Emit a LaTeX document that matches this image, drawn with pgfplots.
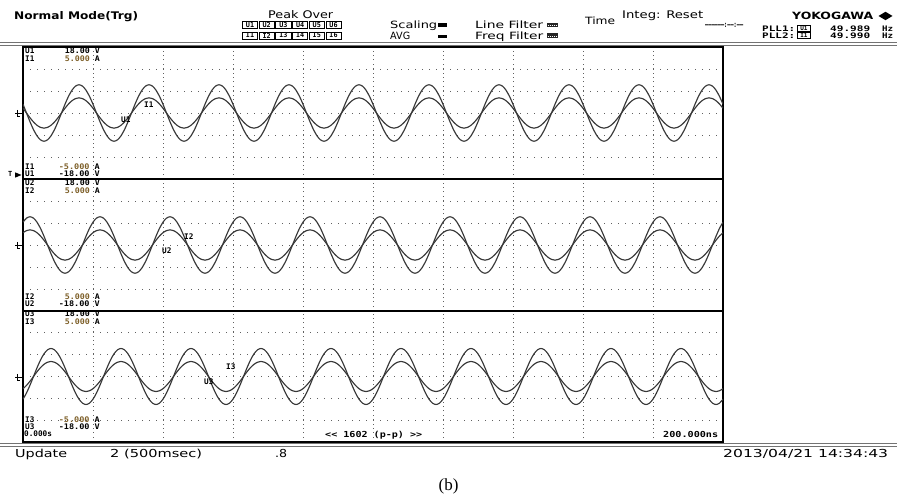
\documentclass[border=0pt]{standalone}
\usepackage{pgfplots}
\pgfplotsset{compat=1.18}
\usepackage{pgfplotstable}
\usepackage{graphicx}
\usepackage{fontspec}
\setmainfont{DejaVu Sans}
\newfontfamily\hdr{DejaVu Sans}
\newfontfamily\mono{DejaVu Sans Mono}
\newfontfamily\capf{Liberation Serif}
\newcommand\fit[2]{\resizebox{#1}{\height}{#2}}
\definecolor{trace}{gray}{0.22}
\definecolor{gridc}{gray}{0.38}
\definecolor{ival}{RGB}{125,95,40}

\pgfplotstableread{
t u1 i1 u2 i2 u3 i3
0.00 2.38 0.36 6.23 0.93 -6.23 -0.93
0.05 0 0 7.32 1.09 -4.53 -0.68
0.10 -2.38 -0.36 7.70 1.15 -2.38 -0.36
0.15 -4.53 -0.68 7.32 1.09 0 0
0.20 -6.23 -0.93 6.23 0.93 2.38 0.36
0.25 -7.32 -1.09 4.53 0.68 4.53 0.68
0.30 -7.70 -1.15 2.38 0.36 6.23 0.93
0.35 -7.32 -1.09 0 0 7.32 1.09
0.40 -6.23 -0.93 -2.38 -0.36 7.70 1.15
0.45 -4.53 -0.68 -4.53 -0.68 7.32 1.09
0.50 -2.38 -0.36 -6.23 -0.93 6.23 0.93
0.55 0 0 -7.32 -1.09 4.53 0.68
0.60 2.38 0.36 -7.70 -1.15 2.38 0.36
0.65 4.53 0.68 -7.32 -1.09 0 0
0.70 6.23 0.93 -6.23 -0.93 -2.38 -0.36
0.75 7.32 1.09 -4.53 -0.68 -4.53 -0.68
0.80 7.70 1.15 -2.38 -0.36 -6.23 -0.93
0.85 7.32 1.09 0 0 -7.32 -1.09
0.90 6.23 0.93 2.38 0.36 -7.70 -1.15
0.95 4.53 0.68 4.53 0.68 -7.32 -1.09
1.00 2.38 0.36 6.23 0.93 -6.23 -0.93
1.05 0 0 7.32 1.09 -4.53 -0.68
1.10 -2.38 -0.36 7.70 1.15 -2.38 -0.36
1.15 -4.53 -0.68 7.32 1.09 0 0
1.20 -6.23 -0.93 6.23 0.93 2.38 0.36
1.25 -7.32 -1.09 4.53 0.68 4.53 0.68
1.30 -7.70 -1.15 2.38 0.36 6.23 0.93
1.35 -7.32 -1.09 0 0 7.32 1.09
1.40 -6.23 -0.93 -2.38 -0.36 7.70 1.15
1.45 -4.53 -0.68 -4.53 -0.68 7.32 1.09
1.50 -2.38 -0.36 -6.23 -0.93 6.23 0.93
1.55 0 0 -7.32 -1.09 4.53 0.68
1.60 2.38 0.36 -7.70 -1.15 2.38 0.36
1.65 4.53 0.68 -7.32 -1.09 0 0
1.70 6.23 0.93 -6.23 -0.93 -2.38 -0.36
1.75 7.32 1.09 -4.53 -0.68 -4.53 -0.68
1.80 7.70 1.15 -2.38 -0.36 -6.23 -0.93
1.85 7.32 1.09 0 0 -7.32 -1.09
1.90 6.23 0.93 2.38 0.36 -7.70 -1.15
1.95 4.53 0.68 4.53 0.68 -7.32 -1.09
2.00 2.38 0.36 6.23 0.93 -6.23 -0.93
2.05 0 0 7.32 1.09 -4.53 -0.68
2.10 -2.38 -0.36 7.70 1.15 -2.38 -0.36
2.15 -4.53 -0.68 7.32 1.09 0 0
2.20 -6.23 -0.93 6.23 0.93 2.38 0.36
2.25 -7.32 -1.09 4.53 0.68 4.53 0.68
2.30 -7.70 -1.15 2.38 0.36 6.23 0.93
2.35 -7.32 -1.09 0 0 7.32 1.09
2.40 -6.23 -0.93 -2.38 -0.36 7.70 1.15
2.45 -4.53 -0.68 -4.53 -0.68 7.32 1.09
2.50 -2.38 -0.36 -6.23 -0.93 6.23 0.93
2.55 0 0 -7.32 -1.09 4.53 0.68
2.60 2.38 0.36 -7.70 -1.15 2.38 0.36
2.65 4.53 0.68 -7.32 -1.09 0 0
2.70 6.23 0.93 -6.23 -0.93 -2.38 -0.36
2.75 7.32 1.09 -4.53 -0.68 -4.53 -0.68
2.80 7.70 1.15 -2.38 -0.36 -6.23 -0.93
2.85 7.32 1.09 0 0 -7.32 -1.09
2.90 6.23 0.93 2.38 0.36 -7.70 -1.15
2.95 4.53 0.68 4.53 0.68 -7.32 -1.09
3.00 2.38 0.36 6.23 0.93 -6.23 -0.93
3.05 0 0 7.32 1.09 -4.53 -0.68
3.10 -2.38 -0.36 7.70 1.15 -2.38 -0.36
3.15 -4.53 -0.68 7.32 1.09 0 0
3.20 -6.23 -0.93 6.23 0.93 2.38 0.36
3.25 -7.32 -1.09 4.53 0.68 4.53 0.68
3.30 -7.70 -1.15 2.38 0.36 6.23 0.93
3.35 -7.32 -1.09 0 0 7.32 1.09
3.40 -6.23 -0.93 -2.38 -0.36 7.70 1.15
3.45 -4.53 -0.68 -4.53 -0.68 7.32 1.09
3.50 -2.38 -0.36 -6.23 -0.93 6.23 0.93
3.55 0 0 -7.32 -1.09 4.53 0.68
3.60 2.38 0.36 -7.70 -1.15 2.38 0.36
3.65 4.53 0.68 -7.32 -1.09 0 0
3.70 6.23 0.93 -6.23 -0.93 -2.38 -0.36
3.75 7.32 1.09 -4.53 -0.68 -4.53 -0.68
3.80 7.70 1.15 -2.38 -0.36 -6.23 -0.93
3.85 7.32 1.09 0 0 -7.32 -1.09
3.90 6.23 0.93 2.38 0.36 -7.70 -1.15
3.95 4.53 0.68 4.53 0.68 -7.32 -1.09
4.00 2.38 0.36 6.23 0.93 -6.23 -0.93
4.05 0 0 7.32 1.09 -4.53 -0.68
4.10 -2.38 -0.36 7.70 1.15 -2.38 -0.36
4.15 -4.53 -0.68 7.32 1.09 0 0
4.20 -6.23 -0.93 6.23 0.93 2.38 0.36
4.25 -7.32 -1.09 4.53 0.68 4.53 0.68
4.30 -7.70 -1.15 2.38 0.36 6.23 0.93
4.35 -7.32 -1.09 0 0 7.32 1.09
4.40 -6.23 -0.93 -2.38 -0.36 7.70 1.15
4.45 -4.53 -0.68 -4.53 -0.68 7.32 1.09
4.50 -2.38 -0.36 -6.23 -0.93 6.23 0.93
4.55 0 0 -7.32 -1.09 4.53 0.68
4.60 2.38 0.36 -7.70 -1.15 2.38 0.36
4.65 4.53 0.68 -7.32 -1.09 0 0
4.70 6.23 0.93 -6.23 -0.93 -2.38 -0.36
4.75 7.32 1.09 -4.53 -0.68 -4.53 -0.68
4.80 7.70 1.15 -2.38 -0.36 -6.23 -0.93
4.85 7.32 1.09 0 0 -7.32 -1.09
4.90 6.23 0.93 2.38 0.36 -7.70 -1.15
4.95 4.53 0.68 4.53 0.68 -7.32 -1.09
5.00 2.38 0.36 6.23 0.93 -6.23 -0.93
5.05 0 0 7.32 1.09 -4.53 -0.68
5.10 -2.38 -0.36 7.70 1.15 -2.38 -0.36
5.15 -4.53 -0.68 7.32 1.09 0 0
5.20 -6.23 -0.93 6.23 0.93 2.38 0.36
5.25 -7.32 -1.09 4.53 0.68 4.53 0.68
5.30 -7.70 -1.15 2.38 0.36 6.23 0.93
5.35 -7.32 -1.09 0 0 7.32 1.09
5.40 -6.23 -0.93 -2.38 -0.36 7.70 1.15
5.45 -4.53 -0.68 -4.53 -0.68 7.32 1.09
5.50 -2.38 -0.36 -6.23 -0.93 6.23 0.93
5.55 0 0 -7.32 -1.09 4.53 0.68
5.60 2.38 0.36 -7.70 -1.15 2.38 0.36
5.65 4.53 0.68 -7.32 -1.09 0 0
5.70 6.23 0.93 -6.23 -0.93 -2.38 -0.36
5.75 7.32 1.09 -4.53 -0.68 -4.53 -0.68
5.80 7.70 1.15 -2.38 -0.36 -6.23 -0.93
5.85 7.32 1.09 0 0 -7.32 -1.09
5.90 6.23 0.93 2.38 0.36 -7.70 -1.15
5.95 4.53 0.68 4.53 0.68 -7.32 -1.09
6.00 2.38 0.36 6.23 0.93 -6.23 -0.93
6.05 0 0 7.32 1.09 -4.53 -0.68
6.10 -2.38 -0.36 7.70 1.15 -2.38 -0.36
6.15 -4.53 -0.68 7.32 1.09 0 0
6.20 -6.23 -0.93 6.23 0.93 2.38 0.36
6.25 -7.32 -1.09 4.53 0.68 4.53 0.68
6.30 -7.70 -1.15 2.38 0.36 6.23 0.93
6.35 -7.32 -1.09 0 0 7.32 1.09
6.40 -6.23 -0.93 -2.38 -0.36 7.70 1.15
6.45 -4.53 -0.68 -4.53 -0.68 7.32 1.09
6.50 -2.38 -0.36 -6.23 -0.93 6.23 0.93
6.55 0 0 -7.32 -1.09 4.53 0.68
6.60 2.38 0.36 -7.70 -1.15 2.38 0.36
6.65 4.53 0.68 -7.32 -1.09 0 0
6.70 6.23 0.93 -6.23 -0.93 -2.38 -0.36
6.75 7.32 1.09 -4.53 -0.68 -4.53 -0.68
6.80 7.70 1.15 -2.38 -0.36 -6.23 -0.93
6.85 7.32 1.09 0 0 -7.32 -1.09
6.90 6.23 0.93 2.38 0.36 -7.70 -1.15
6.95 4.53 0.68 4.53 0.68 -7.32 -1.09
7.00 2.38 0.36 6.23 0.93 -6.23 -0.93
7.05 0 0 7.32 1.09 -4.53 -0.68
7.10 -2.38 -0.36 7.70 1.15 -2.38 -0.36
7.15 -4.53 -0.68 7.32 1.09 0 0
7.20 -6.23 -0.93 6.23 0.93 2.38 0.36
7.25 -7.32 -1.09 4.53 0.68 4.53 0.68
7.30 -7.70 -1.15 2.38 0.36 6.23 0.93
7.35 -7.32 -1.09 0 0 7.32 1.09
7.40 -6.23 -0.93 -2.38 -0.36 7.70 1.15
7.45 -4.53 -0.68 -4.53 -0.68 7.32 1.09
7.50 -2.38 -0.36 -6.23 -0.93 6.23 0.93
7.55 0 0 -7.32 -1.09 4.53 0.68
7.60 2.38 0.36 -7.70 -1.15 2.38 0.36
7.65 4.53 0.68 -7.32 -1.09 0 0
7.70 6.23 0.93 -6.23 -0.93 -2.38 -0.36
7.75 7.32 1.09 -4.53 -0.68 -4.53 -0.68
7.80 7.70 1.15 -2.38 -0.36 -6.23 -0.93
7.85 7.32 1.09 0 0 -7.32 -1.09
7.90 6.23 0.93 2.38 0.36 -7.70 -1.15
7.95 4.53 0.68 4.53 0.68 -7.32 -1.09
8.00 2.38 0.36 6.23 0.93 -6.23 -0.93
8.05 0 0 7.32 1.09 -4.53 -0.68
8.10 -2.38 -0.36 7.70 1.15 -2.38 -0.36
8.15 -4.53 -0.68 7.32 1.09 0 0
8.20 -6.23 -0.93 6.23 0.93 2.38 0.36
8.25 -7.32 -1.09 4.53 0.68 4.53 0.68
8.30 -7.70 -1.15 2.38 0.36 6.23 0.93
8.35 -7.32 -1.09 0 0 7.32 1.09
8.40 -6.23 -0.93 -2.38 -0.36 7.70 1.15
8.45 -4.53 -0.68 -4.53 -0.68 7.32 1.09
8.50 -2.38 -0.36 -6.23 -0.93 6.23 0.93
8.55 0 0 -7.32 -1.09 4.53 0.68
8.60 2.38 0.36 -7.70 -1.15 2.38 0.36
8.65 4.53 0.68 -7.32 -1.09 0 0
8.70 6.23 0.93 -6.23 -0.93 -2.38 -0.36
8.75 7.32 1.09 -4.53 -0.68 -4.53 -0.68
8.80 7.70 1.15 -2.38 -0.36 -6.23 -0.93
8.85 7.32 1.09 0 0 -7.32 -1.09
8.90 6.23 0.93 2.38 0.36 -7.70 -1.15
8.95 4.53 0.68 4.53 0.68 -7.32 -1.09
9.00 2.38 0.36 6.23 0.93 -6.23 -0.93
9.05 0 0 7.32 1.09 -4.53 -0.68
9.10 -2.38 -0.36 7.70 1.15 -2.38 -0.36
9.15 -4.53 -0.68 7.32 1.09 0 0
9.20 -6.23 -0.93 6.23 0.93 2.38 0.36
9.25 -7.32 -1.09 4.53 0.68 4.53 0.68
9.30 -7.70 -1.15 2.38 0.36 6.23 0.93
9.35 -7.32 -1.09 0 0 7.32 1.09
9.40 -6.23 -0.93 -2.38 -0.36 7.70 1.15
9.45 -4.53 -0.68 -4.53 -0.68 7.32 1.09
9.50 -2.38 -0.36 -6.23 -0.93 6.23 0.93
9.55 0 0 -7.32 -1.09 4.53 0.68
9.60 2.38 0.36 -7.70 -1.15 2.38 0.36
9.65 4.53 0.68 -7.32 -1.09 0 0
9.70 6.23 0.93 -6.23 -0.93 -2.38 -0.36
9.75 7.32 1.09 -4.53 -0.68 -4.53 -0.68
9.80 7.70 1.15 -2.38 -0.36 -6.23 -0.93
9.85 7.32 1.09 0 0 -7.32 -1.09
9.90 6.23 0.93 2.38 0.36 -7.70 -1.15
9.95 4.53 0.68 4.53 0.68 -7.32 -1.09
10.00 2.38 0.36 6.23 0.93 -6.23 -0.93
}\wave

\pgfplotsset{
  panel/.style={width=700pt, scale only axis, xmin=0, xmax=10, ymin=-18, ymax=18,
    xtick={1,...,9}, ytick={-12,-6,0,6,12}, xticklabels={}, yticklabels={},
    major tick length=0pt, tick style={draw=none}, grid=major,
    x grid style={gridc, line width=0.8pt, dash pattern=on 0.8pt off 3.6pt},
    y grid style={gridc, line width=0.8pt, dash pattern=on 0.8pt off 6.2pt},
    axis line style={black, line width=1.1pt}, anchor=south west},
  ipanel/.style={width=700pt, scale only axis, xmin=0, xmax=10, ymin=-5, ymax=5,
    hide axis, anchor=south west},
  tr/.style={trace, line width=1.15pt, smooth, no marks}
}

\newcommand\T[5]{\node[anchor=base west, inner sep=0pt] at (#1,#2) {\hdr\fontsize{#3}{#3}\selectfont\fit{#4pt}{#5}};}
\newcommand\TBB[5]{\node[anchor=base west, inner sep=0pt] at (#1,#2) {\hdr\bfseries\fontsize{#3}{#3}\selectfont\fit{#4pt}{#5}};}
\newcommand\TB[5]{\node[anchor=base west, inner sep=0pt] at (#1,#2) {\mono\bfseries\fontsize{#3}{#3}\selectfont\fit{#4pt}{#5}};}
\newcommand\Ll[3]{\node[anchor=base west, inner sep=0pt] at (#1,#2) {\mono\bfseries\fontsize{7.7}{8}\selectfont #3};}
\newcommand\Lr[4]{\node[anchor=base east, inner sep=0pt] at (#1,#2) {\mono\bfseries\fontsize{7.7}{8}\selectfont\fit{#4pt}{#3}};}
\newcommand\Bx[4]{\node[draw=black, line width=0.8pt, minimum width=#3pt, minimum height=7pt, inner sep=0pt, anchor=west, font=\mono\bfseries\fontsize{6.8}{7}\selectfont] at (#1,#2) {#4};}
\newcommand\Bs[4]{\node[draw=black, line width=0.8pt, minimum width=#3pt, minimum height=6pt, inner sep=0pt, anchor=west, font=\mono\bfseries\fontsize{6}{6}\selectfont] at (#1,#2) {#4};}

\begin{document}
\begin{tikzpicture}
\path[use as bounding box] (0,0) rectangle (897pt,503pt);

% Panel 1
\begin{axis}[panel, height=132pt, at={(23pt,324pt)}]
\addplot[tr] table[x=t, y=u1]{\wave};
\end{axis}
\begin{axis}[ipanel, height=132pt, at={(23pt,324pt)}]
\addplot[tr] table[x=t, y=i1]{\wave};
\end{axis}
% Panel 2
\begin{axis}[panel, height=132pt, at={(23pt,192pt)}]
\addplot[tr] table[x=t, y=u2]{\wave};
\end{axis}
\begin{axis}[ipanel, height=132pt, at={(23pt,192pt)}]
\addplot[tr] table[x=t, y=i2]{\wave};
\end{axis}
% Panel 3
\begin{axis}[panel, height=131pt, at={(23pt,61pt)}]
\addplot[tr] table[x=t, y=u3]{\wave};
\end{axis}
\begin{axis}[ipanel, height=131pt, at={(23pt,61pt)}]
\addplot[tr] table[x=t, y=i3]{\wave};
\end{axis}

\begin{scope}[x=1pt, y=-1pt, shift={(0pt,503pt)}]
% separator double lines
\draw[black!55, line width=0.9pt] (0,42.8)--(897,42.8);
\draw[black!55, line width=0.9pt] (0,45.4)--(897,45.4);
\draw[black!55, line width=0.9pt] (0,443.9)--(897,443.9);
\draw[black!55, line width=0.9pt] (0,446.5)--(897,446.5);

% header
\TBB{14}{19.3}{10.5}{124}{Normal Mode(Trg)}
\T{268}{18.8}{10.5}{65}{Peak Over}
\Bx{242}{25}{15.2}{U1}\Bx{258.7}{25}{15.2}{U2}\Bx{275.4}{25}{15.2}{U3}
\Bx{292.1}{25}{15.2}{U4}\Bx{308.8}{25}{15.2}{U5}\Bx{325.5}{25}{15.2}{U6}
\Bx{242}{35.5}{15.2}{I1}\Bx{258.7}{35.5}{15.2}{I2}\Bx{275.4}{35.5}{15.2}{I3}
\Bx{292.1}{35.5}{15.2}{I4}\Bx{308.8}{35.5}{15.2}{I5}\Bx{325.5}{35.5}{15.2}{I6}
\T{390}{29}{10}{47}{Scaling}
\fill[black] (438,23.3) rectangle (447,26.8);
\T{390}{40}{10}{20}{AVG}
\fill[black] (438,35) rectangle (447,38.3);
\T{475}{29}{10}{68}{Line Filter}
\fill[black!85] (547,22.8) rectangle (558,27.3);
\draw[white, line width=0.6pt, dash pattern=on 1pt off 1pt] (547.5,25)--(558,25);
\T{475}{40}{10}{68}{Freq Filter}
\fill[black!85] (547,33.5) rectangle (558,38.3);
\draw[white, line width=0.6pt, dash pattern=on 1pt off 1pt] (547.5,35.9)--(558,35.9);
\T{585}{24.5}{10}{30}{Time}
\T{622}{18.5}{10.5}{81}{Integ: Reset}
\TB{705}{28}{8}{38}{––––––:––:––}
\node[anchor=base west, inner sep=0pt] at (792,19.3) {\hdr\bfseries\fontsize{10}{10}\selectfont\fit{81pt}{YOKOGAWA}};
\fill[black] (878.5,16)--(885.5,11.8)--(892.5,16)--(885.5,20.2)--cycle;
\TB{762}{31.5}{7.6}{33}{PLL1:}
\Bs{797}{28.3}{13}{U1}
\TB{830}{31.5}{7.6}{40}{49.989}
\TB{882}{31.5}{7.6}{11}{Hz}
\TB{762}{38.8}{7.6}{33}{PLL2:}
\Bs{797}{35.6}{13}{I1}
\TB{830}{38.8}{7.6}{40}{49.990}
\TB{882}{38.8}{7.6}{11}{Hz}

% panel 1 labels
\Ll{25}{53.3}{U1}\Lr{100}{53.3}{18.00 V}{35}
\Ll{25}{61.5}{I1}\Lr{100}{61.5}{\textcolor{ival}{5.000} A}{35}
\Ll{25}{169.3}{I1}\Lr{100}{169.3}{\textcolor{ival}{-5.000} A}{41}
\Ll{25}{176.4}{U1}\Lr{100}{176.4}{-18.00 V}{41}
% panel 2 labels
\Ll{25}{186}{U2}\Lr{100}{186}{18.00 V}{35}
\Ll{25}{194}{I2}\Lr{100}{194}{\textcolor{ival}{5.000} A}{35}
\Ll{25}{299.3}{I2}\Lr{100}{299.3}{\textcolor{ival}{5.000} A}{35}
\Ll{25}{306.7}{U2}\Lr{100}{306.7}{-18.00 V}{41}
% panel 3 labels
\Ll{25}{317}{U3}\Lr{100}{317}{18.00 V}{35}
\Ll{25}{325}{I3}\Lr{100}{325}{\textcolor{ival}{5.000} A}{35}
\Ll{25}{422.5}{I3}\Lr{100}{422.5}{\textcolor{ival}{-5.000} A}{41}
\Ll{25}{429.6}{U3}\Lr{100}{429.6}{-18.00 V}{41}
\Ll{24}{436.8}{0.000s}

% trace labels
\Ll{144}{107.3}{I1}\Ll{121}{122.7}{U1}
\Ll{184}{239.3}{I2}\Ll{162}{253.3}{U2}
\Ll{226}{370}{I3}\Ll{204}{385}{U3}

% bottom info in panel 3
\node[anchor=base west, inner sep=0pt] at (325,438) {\mono\bfseries\fontsize{8.3}{9}\selectfont\fit{97pt}{\mbox{<}\mbox{<} 1602 (p-p) \mbox{>}\mbox{>}}};
\node[anchor=base west, inner sep=0pt] at (663,438) {\mono\bfseries\fontsize{8.3}{9}\selectfont\fit{55pt}{200.000ns}};

% trigger and ground markers
\node[anchor=base west, inner sep=0pt] at (8,176.8) {\mono\bfseries\fontsize{7}{7}\selectfont T};
\fill[black] (15,172.3)--(21.5,175)--(15,177.7)--cycle;
\foreach \yc in {113,245,377}{
  \draw[black, line width=0.8pt] (15,\yc)--(22,\yc);
  \draw[black, line width=0.8pt] (17,\yc-3)--(17,\yc+3);
  \draw[black, line width=0.8pt] (17,\yc+3)--(20,\yc+3);
}

% status bar
\T{15}{458}{11}{52}{Update}
\T{110}{458}{11}{92}{2 (500msec)}
\T{275}{458}{11}{12}{.8}
\T{723}{457.3}{11}{165}{2013/04/21 14:34:43}

% caption
\node[anchor=base, inner sep=0pt] at (448.5,491) {\capf\fontsize{17}{18}\selectfont (b)};
\end{scope}
\end{tikzpicture}
\end{document}
